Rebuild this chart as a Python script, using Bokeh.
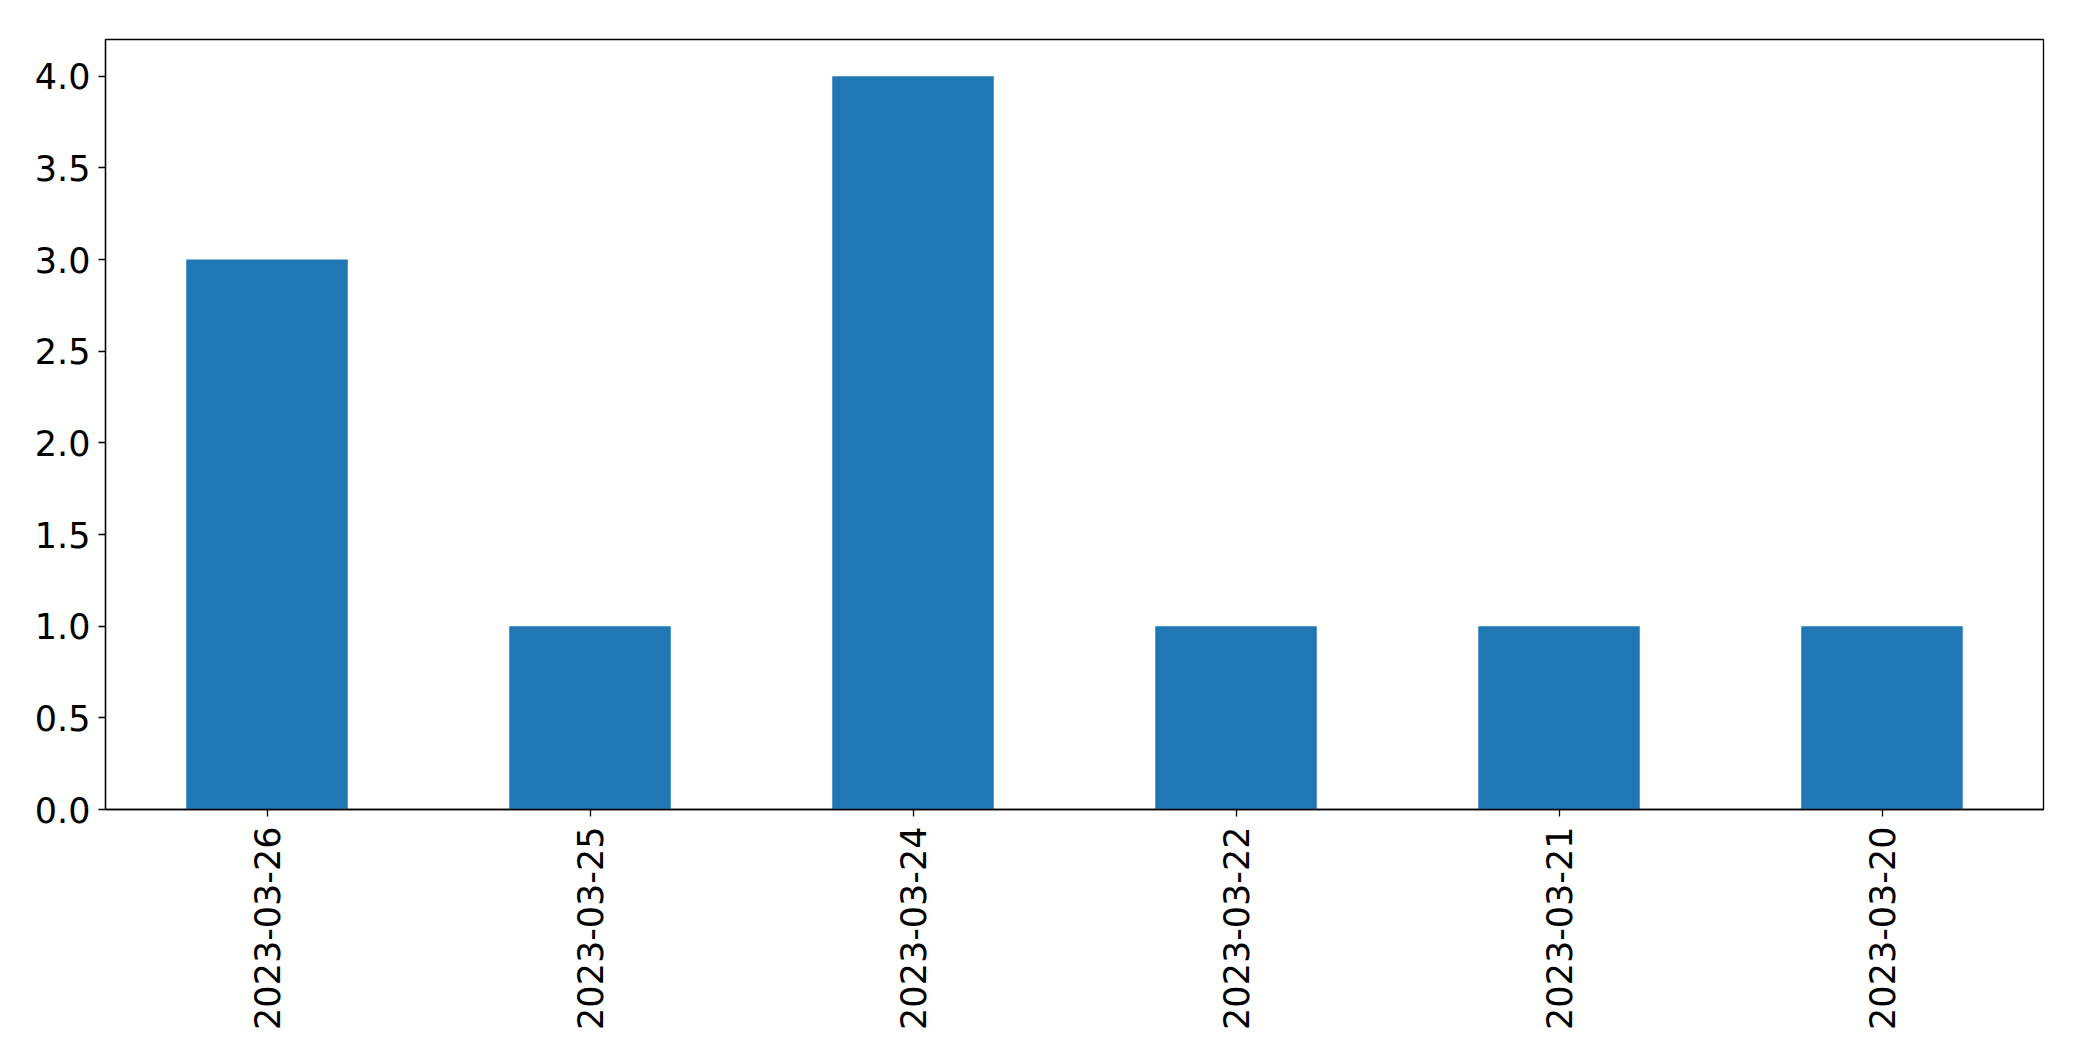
import math
from bokeh.plotting import figure
from bokeh.models import Range1d, FactorRange, FixedTicker, PrintfTickFormatter
from bokeh.embed import file_html
from bokeh.resources import INLINE

dates = ["2023-03-26", "2023-03-25", "2023-03-24", "2023-03-22", "2023-03-21", "2023-03-20"]
counts = [3, 1, 4, 1, 1, 1]
y_ticks = [0.0, 0.5, 1.0, 1.5, 2.0, 2.5, 3.0, 3.5, 4.0]

p = figure(x_range=FactorRange(factors=dates, range_padding=0),
           y_range=Range1d(0, 4.2),
           width=2066, height=1045,
           min_border_left=105, min_border_right=23, min_border_top=39, min_border_bottom=236,
           output_backend="svg", toolbar_location=None)

p.vbar(x=dates, top=counts, width=0.5, color="#1f77b4", line_color=None)

p.xgrid.visible = False
p.ygrid.visible = False
p.outline_line_color = "black"
p.outline_line_width = 1.3
p.outline_line_alpha = 1

for ax in (p.xaxis, p.yaxis):
    ax.axis_line_color = "black"
    ax.axis_line_width = 1.3
    ax.major_tick_line_color = "black"
    ax.major_tick_line_width = 1.3
    ax.major_tick_in = 0
    ax.major_tick_out = 7
    ax.minor_tick_line_color = None
    ax.major_label_text_font = "DejaVu Sans"
    ax.major_label_text_font_size = "35px"
    ax.major_label_text_color = "black"

p.yaxis.ticker = FixedTicker(ticks=y_ticks)
p.yaxis.formatter = PrintfTickFormatter(format="%.1f")
p.yaxis.major_label_standoff = 8
p.xaxis.major_label_orientation = math.pi / 2
p.xaxis.major_label_standoff = 10

open("out.html", "w").write(file_html(p, INLINE))
